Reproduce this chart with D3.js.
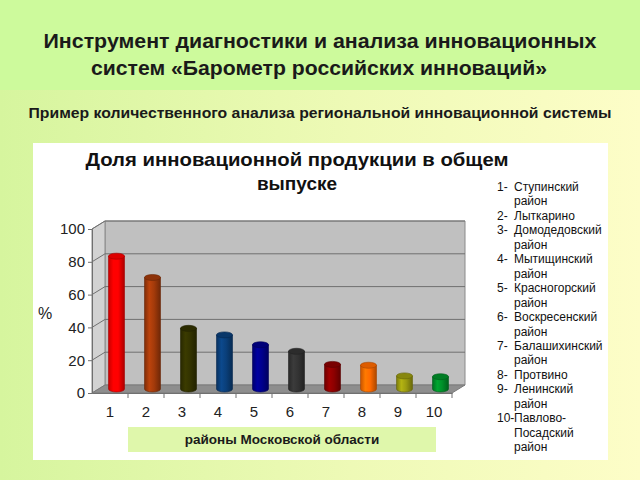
<!DOCTYPE html>
<html>
<head>
<meta charset="utf-8">
<script src="https://cdn.jsdelivr.net/npm/d3@7"></script>
<style>
  html, body { margin: 0; padding: 0; background: #fff; }
  svg { display: block; font-family: Arial, "Liberation Sans", sans-serif; }
</style>
</head>
<body>
<svg id="chart" width="640" height="480"></svg>
<script>
// data
const categories = ['1', '2', '3', '4', '5', '6', '7', '8', '9', '10'];
const values = [81, 68, 37, 33, 27, 23, 15, 14.5, 8, 7.5];
const barColors = ['#ff0000', '#a33a0a', '#333300', '#0a3f7a', '#00008c', '#333333', '#8c0000', '#ff6a00', '#9c9c10', '#00902a'];
const yTicks = [0, 20, 40, 60, 80, 100];
const legendNums = ['1-', '2-', '3-', '4-', '5-', '6-', '7-', '8-', '9-', '10-'];
const legendNames = [
  ['Ступинский', 'район'],
  ['Лыткарино'],
  ['Домодедовский', 'район'],
  ['Мытищинский', 'район'],
  ['Красногорский', 'район'],
  ['Воскресенский', 'район'],
  ['Балашихинский', 'район'],
  ['Протвино'],
  ['Ленинский', 'район'],
  ['Павлово-', 'Посадский', 'район']
];

const svg = d3.select('#chart');
const defs = svg.append('defs');

// slide background
const bg = defs.append('linearGradient').attr('id', 'bgGrad').attr('x1', 0).attr('x2', 1).attr('y1', 0).attr('y2', 0);
bg.append('stop').attr('offset', 0).attr('stop-color', '#d6f59e');
bg.append('stop').attr('offset', 0.55).attr('stop-color', '#eefab6');
bg.append('stop').attr('offset', 1).attr('stop-color', '#fdfdc8');
svg.append('rect').attr('width', 640).attr('height', 480).attr('fill', 'url(#bgGrad)');
svg.append('rect').attr('width', 640).attr('height', 90).attr('fill', '#cdfa9c');

// header
svg.append('text').attr('x', 320).attr('y', 48).attr('text-anchor', 'middle')
  .attr('font-size', 20).attr('font-weight', 'bold').attr('fill', '#1a1a1a')
  .attr('textLength', 553).attr('lengthAdjust', 'spacingAndGlyphs')
  .text('Инструмент диагностики и анализа инновационных');
svg.append('text').attr('x', 319).attr('y', 75).attr('text-anchor', 'middle')
  .attr('font-size', 20).attr('font-weight', 'bold').attr('fill', '#1a1a1a')
  .attr('textLength', 456).attr('lengthAdjust', 'spacingAndGlyphs')
  .text('систем «Барометр российских инноваций»');
svg.append('text').attr('x', 320).attr('y', 118).attr('text-anchor', 'middle')
  .attr('font-size', 14.5).attr('font-weight', 'bold').attr('fill', '#1a1a1a')
  .attr('textLength', 583).attr('lengthAdjust', 'spacingAndGlyphs')
  .text('Пример количественного анализа региональной инновационной системы');

// white chart panel
svg.append('rect').attr('x', 33).attr('y', 143).attr('width', 575).attr('height', 317).attr('fill', '#ffffff');

// chart title
svg.append('text').attr('x', 297).attr('y', 166).attr('text-anchor', 'middle')
  .attr('font-size', 19).attr('font-weight', 'bold').attr('fill', '#111')
  .attr('textLength', 423).attr('lengthAdjust', 'spacingAndGlyphs')
  .text('Доля инновационной продукции в общем');
svg.append('text').attr('x', 297).attr('y', 190).attr('text-anchor', 'middle')
  .attr('font-size', 19).attr('font-weight', 'bold').attr('fill', '#111')
  .text('выпуске');

// 3D plot geometry
const dx = 13, dy = -8;
const x = d3.scaleBand().domain(categories).range([92, 452]);
const y = d3.scaleLinear().domain([0, 100]).range([393, 229]);
const x0 = x.range()[0], x1 = x.range()[1];

const plot = svg.append('g');
// back wall
plot.append('polygon')
  .attr('points', [[x0 + dx, y(100) + dy], [x1 + dx, y(100) + dy], [x1 + dx, y(0) + dy], [x0 + dx, y(0) + dy]].join(' '))
  .attr('fill', '#c0c0c0').attr('stroke', '#8a8a8a').attr('stroke-width', 1);
// side wall
plot.append('polygon')
  .attr('points', [[x0, y(0)], [x0, y(100)], [x0 + dx, y(100) + dy], [x0 + dx, y(0) + dy]].join(' '))
  .attr('fill', '#d2d2d2').attr('stroke', '#8a8a8a').attr('stroke-width', 1);
// floor
plot.append('polygon')
  .attr('points', [[x0, y(0)], [x0 + dx, y(0) + dy], [x1 + dx, y(0) + dy], [x1, y(0)]].join(' '))
  .attr('fill', '#8e8e8e').attr('stroke', '#7a7a7a').attr('stroke-width', 1);

// gridlines
plot.selectAll('.grid').data(yTicks.filter(d => d > 0)).enter().append('polyline')
  .attr('points', d => [[x0, y(d)], [x0 + dx, y(d) + dy], [x1 + dx, y(d) + dy]].join(' '))
  .attr('fill', 'none').attr('stroke', '#707070').attr('stroke-width', 1);

// y axis
const yAxis = plot.append('g').attr('transform', `translate(${x0},0)`)
  .call(d3.axisLeft(y).tickValues(yTicks).tickSize(4).tickPadding(3));
yAxis.select('.domain').attr('stroke', '#707070');
yAxis.selectAll('.tick line').attr('stroke', '#707070');
yAxis.selectAll('.tick text').attr('font-size', 15).attr('fill', '#222').attr('font-family', 'Arial, "Liberation Sans", sans-serif');

// x axis
const xAxis = plot.append('g').attr('transform', `translate(0,${y(0)})`)
  .call(d3.axisBottom(x).tickSize(0).tickPadding(13));
xAxis.select('.domain').attr('stroke', '#707070');
xAxis.selectAll('.tick text').attr('font-size', 15).attr('fill', '#222').attr('font-family', 'Arial, "Liberation Sans", sans-serif');
plot.selectAll('.xtick').data(categories.slice(1).concat(['end'])).enter().append('line')
  .attr('x1', d => d === 'end' ? x1 : x(d)).attr('x2', d => d === 'end' ? x1 : x(d))
  .attr('y1', y(0)).attr('y2', y(0) + 5).attr('stroke', '#707070');

// cylinders
const bw = 16, ry = 3;
categories.forEach((c, i) => {
  const col = d3.color(barColors[i]);
  const g = defs.append('linearGradient').attr('id', 'cyl' + i).attr('x1', 0).attr('x2', 1).attr('y1', 0).attr('y2', 0);
  g.append('stop').attr('offset', 0).attr('stop-color', col.darker(0.7));
  g.append('stop').attr('offset', 0.3).attr('stop-color', col.brighter(0.4));
  g.append('stop').attr('offset', 0.6).attr('stop-color', col);
  g.append('stop').attr('offset', 1).attr('stop-color', col.darker(1.1));
});
const bars = plot.selectAll('.bar').data(values).enter().append('g').attr('class', 'bar');
const cx = (d, i) => x(categories[i]) + x.bandwidth() / 2 + dx / 2;
const base = y(0) + dy / 2;
bars.append('path')
  .attr('d', (d, i) => {
    const l = cx(d, i) - bw / 2, r = cx(d, i) + bw / 2, top = y(d) + dy / 2;
    return `M${l},${top} L${l},${base} A${bw / 2},${ry} 0 0 0 ${r},${base} L${r},${top} Z`;
  })
  .attr('fill', (d, i) => `url(#cyl${i})`)
  .attr('stroke', (d, i) => d3.color(barColors[i]).darker(1.2)).attr('stroke-width', 0.6);
bars.append('ellipse')
  .attr('cx', (d, i) => cx(d, i)).attr('cy', d => y(d) + dy / 2)
  .attr('rx', bw / 2).attr('ry', ry)
  .attr('fill', (d, i) => d3.color(barColors[i]).darker(0.4))
  .attr('stroke', (d, i) => d3.color(barColors[i]).darker(1.2)).attr('stroke-width', 0.6);

// "%" label
svg.append('text').attr('x', 45).attr('y', 319).attr('text-anchor', 'middle')
  .attr('font-size', 16).attr('fill', '#222').text('%');

// axis title box
svg.append('rect').attr('x', 128).attr('y', 427).attr('width', 308).attr('height', 25).attr('fill', '#dff7ab');
svg.append('text').attr('x', 282).attr('y', 444).attr('text-anchor', 'middle')
  .attr('font-size', 13.5).attr('font-weight', 'bold').attr('fill', '#1a1a1a')
  .text('районы Московской области');

// legend
const legend = svg.append('g').attr('font-size', 12).attr('fill', '#111');
let row = 0;
legendNums.forEach((n, i) => {
  legend.append('text').attr('x', 497).attr('y', 191 + row * 14.45).text(n);
  legendNames[i].forEach(t => {
    legend.append('text').attr('x', 514).attr('y', 191 + row * 14.45).text(t);
    row++;
  });
});
</script>
</body>
</html>
